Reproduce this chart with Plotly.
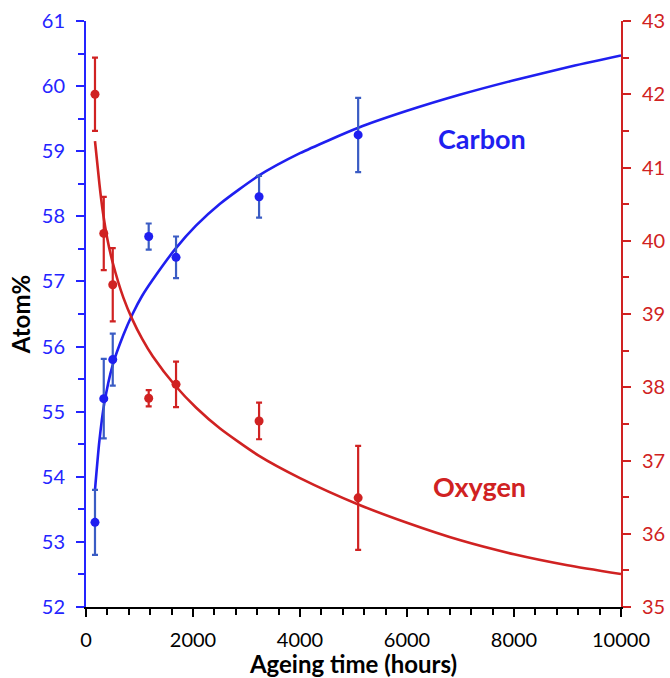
import plotly.graph_objects as go

hours = [168, 332, 500, 1172, 1683, 3235, 5087]
carbon = [53.30, 55.20, 55.80, 57.69, 57.37, 58.30, 59.25]
carbon_err = [0.50, 0.61, 0.40, 0.20, 0.32, 0.32, 0.57]
oxygen = [42.00, 40.10, 39.40, 37.85, 38.04, 37.54, 36.49]
oxygen_err = [0.50, 0.50, 0.50, 0.11, 0.31, 0.25, 0.71]

# Fitted curves
carbon_fit_hours = [168, 250, 340, 500, 700, 870, 1050, 1250, 1670, 2060, 2500, 3220, 4000, 5090, 6000, 7000, 8000, 9000, 10000]
carbon_fit_vals = [53.80, 54.55, 55.12, 55.72, 56.18, 56.50, 56.78, 57.03, 57.50, 57.86, 58.19, 58.62, 58.97, 59.36, 59.62, 59.87, 60.09, 60.29, 60.47]
oxygen_fit_hours = [168, 250, 310, 400, 500, 700, 870, 1050, 1250, 1670, 2060, 2500, 3220, 4000, 5090, 6000, 7000, 8000, 9000, 10000]
oxygen_fit_vals = [41.36, 40.78, 40.42, 40.02, 39.70, 39.22, 38.92, 38.66, 38.42, 38.02, 37.72, 37.44, 37.07, 36.76, 36.40, 36.15, 35.91, 35.72, 35.57, 35.45]

x_ticks = [0, 2000, 4000, 6000, 8000, 10000]
x_tick_labels = [str(v) for v in x_ticks]

BLUE = "#1f1ff0"
BLUE_AX = "#2424ff"
BLUE_ERR = "#3a5cc4"
RED = "#d02222"
FONT = "Lato, Carlito, 'Open Sans', sans-serif"

fig = go.Figure()
fig.add_trace(go.Scatter(x=carbon_fit_hours, y=carbon_fit_vals, mode="lines",
                         line=dict(color=BLUE, width=2.6, shape="spline", smoothing=0.6),
                         showlegend=False, hoverinfo="skip"))
fig.add_trace(go.Scatter(x=hours, y=carbon, mode="markers",
                         marker=dict(color=BLUE, size=9),
                         error_y=dict(type="data", array=carbon_err, color=BLUE_ERR, thickness=2.2, width=3),
                         showlegend=False))
fig.add_trace(go.Scatter(x=oxygen_fit_hours, y=oxygen_fit_vals, mode="lines", yaxis="y2",
                         line=dict(color=RED, width=2.6, shape="spline", smoothing=0.6),
                         showlegend=False, hoverinfo="skip"))
fig.add_trace(go.Scatter(x=hours, y=oxygen, mode="markers", yaxis="y2",
                         marker=dict(color=RED, size=9),
                         error_y=dict(type="data", array=oxygen_err, color=RED, thickness=2.2, width=3),
                         showlegend=False))

fig.update_layout(
    width=670, height=678,
    margin=dict(l=86, r=49, t=21, b=71),
    paper_bgcolor="white", plot_bgcolor="white",
    font=dict(family=FONT, size=20, color="black"),
    xaxis=dict(range=[0, 10000], tickvals=x_ticks, ticktext=x_tick_labels, showgrid=False, zeroline=False,
               automargin=False,
               showline=True, linecolor="black", linewidth=2,
               ticks="outside", ticklen=8, tickwidth=2, tickcolor="black",
               minor=dict(dtick=400, ticks="outside", ticklen=6, tickwidth=2, tickcolor="black"),
               tickfont=dict(size=20, color="black"), ticklabelstandoff=6,
               title=dict(text="<b>Ageing time (hours)</b>", font=dict(size=24, color="black"), standoff=2)),
    yaxis=dict(range=[52, 61], dtick=1, showgrid=False, zeroline=False, automargin=False,
               showline=True, linecolor=BLUE_AX, linewidth=2,
               ticks="outside", ticklen=8, tickwidth=2, tickcolor=BLUE_AX,
               minor=dict(dtick=0.5, ticks="outside", ticklen=6, tickwidth=2, tickcolor=BLUE_AX),
               tickfont=dict(size=20, color=BLUE_AX), ticklabelstandoff=7,
               title=dict(text="<b>Atom%</b>", font=dict(size=24, color="black"), standoff=4)),
    yaxis2=dict(range=[35, 43], dtick=1, overlaying="y", side="right", showgrid=False, zeroline=False,
                automargin=False,
                showline=True, linecolor=RED, linewidth=2,
                ticks="outside", ticklen=8, tickwidth=2, tickcolor=RED,
                minor=dict(dtick=0.5, ticks="outside", ticklen=6, tickwidth=2, tickcolor=RED),
                tickfont=dict(size=20, color=RED), ticklabelstandoff=7),
    annotations=[
        dict(text="<b>Carbon</b>", x=7406, y=59.19, xref="x", yref="y", showarrow=False,
             font=dict(family=FONT, size=27, color=BLUE)),
        dict(text="<b>Oxygen</b>", x=7350, y=36.65, xref="x", yref="y2", showarrow=False,
             font=dict(family=FONT, size=27, color=RED)),
    ],
)

fig.write_html("out.html", config={"displayModeBar": False},
               post_script="document.body.style.margin='0';document.body.style.overflow='hidden';")
